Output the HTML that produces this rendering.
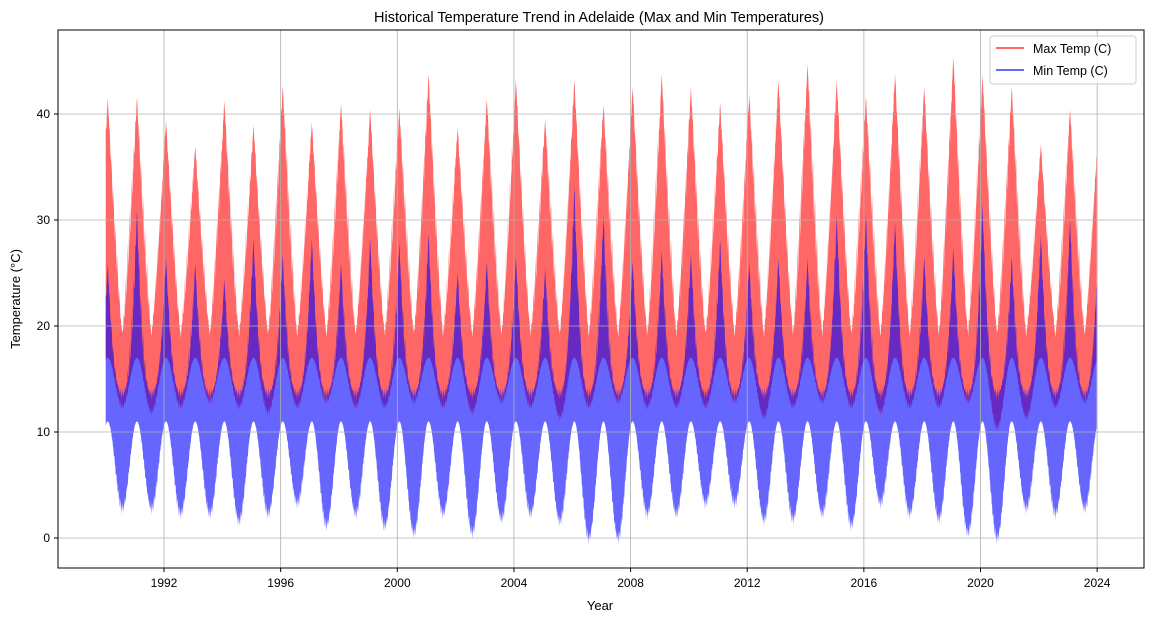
<!DOCTYPE html>
<html><head><meta charset="utf-8"><style>
html,body{margin:0;padding:0;background:#fff;}
svg{display:block;font-family:"Liberation Sans","DejaVu Sans",sans-serif;}
</style></head><body>
<svg id="chart" width="1152" height="622" xmlns="http://www.w3.org/2000/svg">
<rect width="1152" height="622" fill="#fff"/>
<text x="599" y="22" text-anchor="middle" font-size="14.5" fill="#000">Historical Temperature Trend in Adelaide (Max and Min Temperatures)</text>
<g id="series"></g>
<g id="grid"></g>
<rect x="58" y="30" width="1086" height="538" fill="none" stroke="#000" stroke-width="1"/>
<g id="ticks"></g>
<text x="600" y="610" text-anchor="middle" font-size="13">Year</text>
<text transform="translate(20,299) rotate(-90)" text-anchor="middle" font-size="13">Temperature (°C)</text>
<g>
<rect x="990" y="36" width="146" height="48" rx="3" fill="#fff" fill-opacity="0.8" stroke="#ccc"/>
<g><line x1="996" y1="48" x2="1024" y2="48" stroke="#ff6666" stroke-width="2"/><text x="1033" y="53" font-size="12.5">Max Temp (C)</text></g>
<g><line x1="996" y1="70" x2="1024" y2="70" stroke="#6666ff" stroke-width="2"/><text x="1033" y="75" font-size="12.5">Min Temp (C)</text></g>
</g>
</svg>
<script>
const years = [1990,1991,1992,1993,1994,1995,1996,1997,1998,1999,2000,2001,2002,2003,2004,2005,2006,2007,2008,2009,2010,2011,2012,2013,2014,2015,2016,2017,2018,2019,2020,2021,2022,2023];
const maxPeak = [41.6,41.6,39.4,37,41.3,39,42.7,39.3,41,40.5,40.6,43.8,38.8,41.5,43.3,39.6,43.3,41,42.6,43.8,42.6,41.1,41.9,43.3,44.8,43.3,41.7,43.9,42.6,45.5,43.8,42.6,37.2,40.5];
const maxTrough = [12,11.5,12,12.5,12,11.5,12,12.5,12,12,12.5,12,11.5,12.5,12,11,12,12.5,12,12,12,12.5,11,12,12.5,12,11.5,12,12,12.5,10,11,12,12.5];
const minPeak = [26,31,26.5,26,24.5,28.4,26.8,28.4,26,28.4,28,28.8,25.2,26.2,26.6,25.6,33.3,30.6,26.2,27.2,27,28.2,26.1,26.5,26.4,30.6,30.6,30,26.6,27.5,31.6,26.6,28.7,30.2];
const minTrough = [2.2,2.2,1.7,1.7,1,1.7,2.7,0.6,1.7,0.5,-0.1,1.7,-0.1,1.2,1.7,1,-0.6,-0.6,1.7,1.7,2.7,2.7,1.1,1.2,1.7,0.6,2.7,1.7,1.2,-0.1,-0.6,2.2,1.7,2.2];
const xTicks = [1992,1996,2000,2004,2008,2012,2016,2020,2024];
const yTicks = [0,10,20,30,40];

const NS="http://www.w3.org/2000/svg";
const X = t => 105.7 + (t-1990)*29.16;
const Y = v => 538 - v*10.6;
function mk(tag, attrs, parent){const e=document.createElementNS(NS,tag);for(const k in attrs)e.setAttribute(k,attrs[k]);parent.appendChild(e);return e;}

const series=document.getElementById('series');
function band(color, name, upperFn, lowerFn){
  const up=[],lo=[];
  for(let i=0;i<years.length;i++){
    for(let k=0;k<73;k++){
      const p=k/73, t=years[i]+p;
      let d=Math.abs(p-0.07); if(d>0.5) d=1-d;
      const s=1-2*d;
      const c=(1+Math.cos(2*Math.PI*d))/2;
      const j=(p<0.57||i===years.length-1)?i:i+1;
      const q=((k*7+i*3)%5)/5;
      up.push([X(t),Y(upperFn(i,j,s,q))]);
      lo.push([X(t),Y(lowerFn(i,j,c,q))]);
    }
  }
  const pts=up.concat(lo.reverse()).map(p=>p[0].toFixed(1)+','+p[1].toFixed(1)).join(' ');
  const el=mk('polygon',{points:pts,fill:color,'fill-opacity':0.6},series);
  
  
}
band('#ff0000','max-temp-series',
  (i,j,s,q)=>18.5+q*1.5+(maxPeak[j]-18.5-q*1.5)*Math.pow(s,0.9+q*0.8),
  (i,j,c,q)=>maxTrough[i]+q*1.0+(17-maxTrough[i]-q)*c);
band('#0000ff','min-temp-series',
  (i,j,s,q)=>13+q*1.5+(minPeak[j]-13-q*1.5)*Math.pow(s,1.8+q*1.8),
  (i,j,c,q)=>minTrough[i]+q*1.5+(11-minTrough[i]-q*1.5)*c);

const grid=document.getElementById('grid'), ticks=document.getElementById('ticks');
xTicks.forEach(t=>{
  const x=X(t);
  const g=mk('line',{x1:x,y1:30,x2:x,y2:568,stroke:'#b0b0b0','stroke-width':0.8},grid);
  
  
  mk('line',{x1:x,y1:568,x2:x,y2:572,stroke:'#000'},ticks);
  const l=mk('text',{x:x,y:587,'text-anchor':'middle','font-size':12},ticks);
  
  
  l.textContent=t;
});
yTicks.forEach(v=>{
  const y=Y(v);
  const g=mk('line',{x1:58,y1:y,x2:1144,y2:y,stroke:'#b0b0b0','stroke-width':0.8},grid);
  
  
  mk('line',{x1:54,y1:y,x2:58,y2:y,stroke:'#000'},ticks);
  const l=mk('text',{x:50,y:y+4,'text-anchor':'end','font-size':12},ticks);
  
  
  l.textContent=v;
});
</script>
</body></html>
